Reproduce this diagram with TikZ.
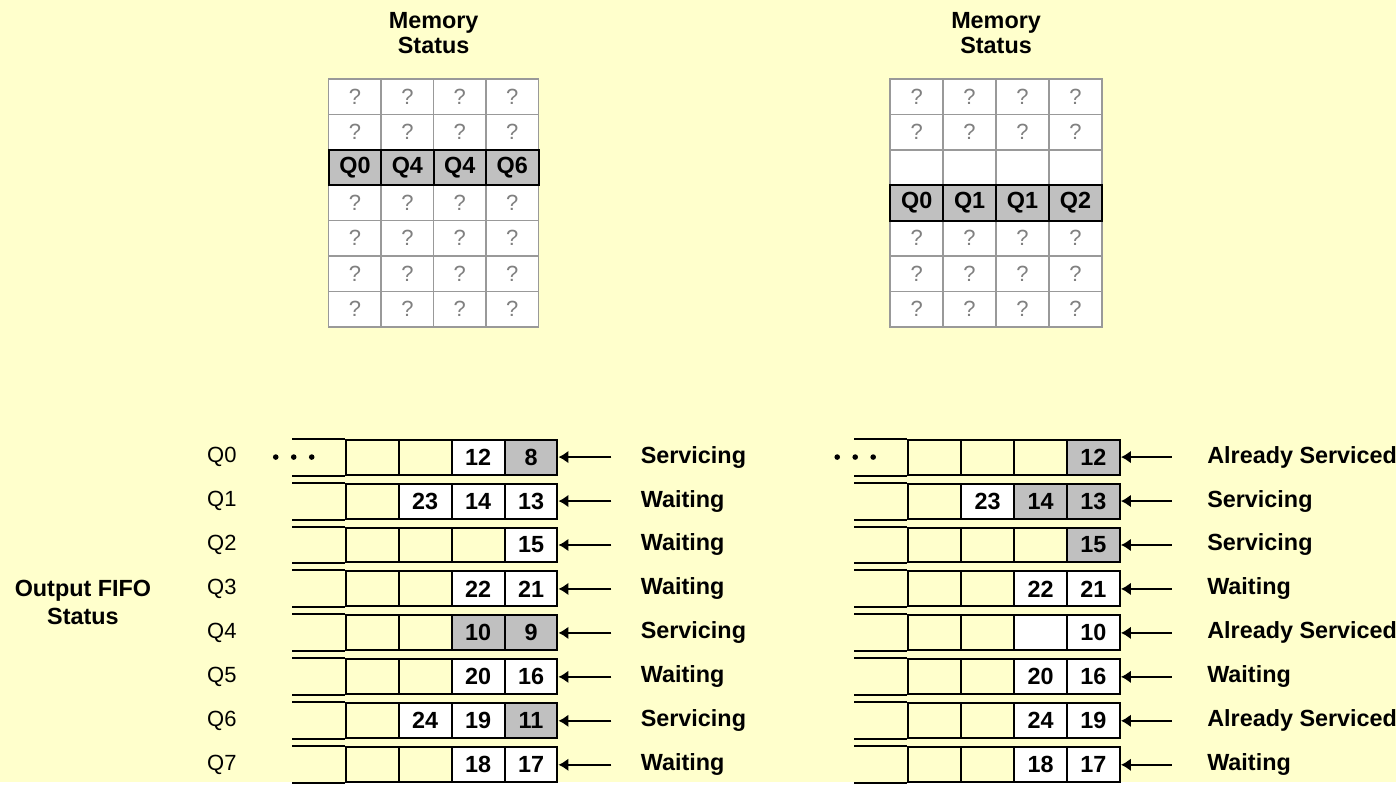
\documentclass[tikz,border=0pt]{standalone}
\usepackage{fontspec}
\setmainfont{Liberation Sans}
\usetikzlibrary{arrows.meta}
\definecolor{paper}{HTML}{FFFFCC}
\definecolor{busy}{HTML}{C0C0C0}
\definecolor{gridgray}{HTML}{999999}
\definecolor{unknown}{HTML}{808080}
\begin{document}
\begin{tikzpicture}[x=0.5pt,y=-0.5pt,
  font=\fontsize{11}{13}\selectfont,
  memcell/.style={draw=gridgray, line width=0.8pt, fill=white, text=unknown, inner sep=0pt, minimum height=17.7pt},
  memrow/.style={draw=black, line width=1pt, fill=busy, text=black, font=\fontsize{11.7}{13}\selectfont\bfseries},
  slot/.style={draw, line width=1pt, inner sep=0pt, minimum width=26.5pt, minimum height=17.5pt},
  full/.style={slot, font=\fontsize{11.7}{13}\selectfont\bfseries},
  title/.style={align=center, font=\fontsize{11.7}{12.5}\selectfont\bfseries},
  state/.style={anchor=west, inner sep=0pt, font=\fontsize{11.7}{13}\selectfont\bfseries},
  feed/.style={line width=1pt, -{Latex[length=5pt,width=6.5pt]}}]
\fill[paper] (0,0) rectangle (1397,783);

% memory before and after
\node[title] (mema) at (434,33) {Memory\\Status};
\node[title] (memb) at (997,33) {Memory\\Status};
\foreach \r in {1,2,4,5,6,7}
  \foreach \c in {1,...,4}
    \node[memcell, minimum width=26.25pt] (ma-\r-\c) at ({302.75+52.5*\c},{61.3+35.43*\r}) {?};
\foreach \c/\q in {1/Q0,2/Q4,3/Q4,4/Q6}
  \node[memcell, memrow, minimum width=26.25pt] (ma-3-\c) at ({302.75+52.5*\c},{61.3+35.43*3}) {\q};
\foreach \r in {1,2,5,6,7}
  \foreach \c in {1,...,4}
    \node[memcell, minimum width=26.5pt] (mb-\r-\c) at ({864.5+53*\c},{61.3+35.43*\r}) {?};
\foreach \c in {1,...,4}
  \node[memcell, minimum width=26.5pt] (mb-3-\c) at ({864.5+53*\c},{61.3+35.43*3}) {};
\foreach \c/\q in {1/Q0,2/Q1,3/Q1,4/Q2}
  \node[memcell, memrow, minimum width=26.5pt] (mb-4-\c) at ({864.5+53*\c},{61.3+35.43*4}) {\q};

% output fifos
\node[title, font=\fontsize{11.7}{14}\selectfont\bfseries] (outa) at (83,603) {Output FIFO\\Status};
\foreach \q in {0,...,7} {
  \node[anchor=west, inner sep=0pt] (qa-\q) at (207,{457.5+44*\q}) {Q\q};
  \foreach \c in {1,...,4} {
    \node[slot] (fa-\q-\c) at ({319.5+53*\c},{457.5+44*\q}) {};
    \node[slot] (fb-\q-\c) at ({882.5+53*\c},{457.5+44*\q}) {};
  }
  \draw[line width=1pt] (fa-\q-1.north west) -- +(-53,0) (fa-\q-1.south west) -- +(-53,0);
  \draw[line width=1pt] (fb-\q-1.north west) -- +(-53,0) (fb-\q-1.south west) -- +(-53,0);
}
\foreach \x in {276,294,312,838,856,874}
  \fill (\x,457.5) circle (1.4pt);

\foreach \q/\c/\v/\f in {0/3/12/white, 0/4/8/busy, 1/2/23/white, 1/3/14/white, 1/4/13/white,
    2/4/15/white, 3/3/22/white, 3/4/21/white, 4/3/10/busy, 4/4/9/busy, 5/3/20/white, 5/4/16/white,
    6/2/24/white, 6/3/19/white, 6/4/11/busy, 7/3/18/white, 7/4/17/white}
  \node[full, fill=\f] (na-\q-\c) at (fa-\q-\c) {\v};
\foreach \q/\c/\v/\f in {0/4/12/busy, 1/2/23/white, 1/3/14/busy, 1/4/13/busy, 2/4/15/busy,
    3/3/22/white, 3/4/21/white, 4/3/{}/white, 4/4/10/white, 5/3/20/white, 5/4/16/white,
    6/3/24/white, 6/4/19/white, 7/3/18/white, 7/4/17/white}
  \node[full, fill=\f] (nb-\q-\c) at (fb-\q-\c) {\v};

\foreach \q/\s/\t in {0/Servicing/Already Serviced, 1/Waiting/Servicing, 2/Waiting/Servicing,
    3/Waiting/Waiting, 4/Servicing/Already Serviced, 5/Waiting/Waiting,
    6/Servicing/Already Serviced, 7/Waiting/Waiting} {
  \coordinate (ta-\q) at (612,{457.5+44*\q});
  \coordinate (tb-\q) at (1173,{457.5+44*\q});
  \draw[feed] (ta-\q) -- (fa-\q-4);
  \draw[feed] (tb-\q) -- (fb-\q-4);
  \node[state] (sa-\q) at (641,{457.5+44*\q}) {\s};
  \node[state] (sb-\q) at (1208,{457.5+44*\q}) {\t};
}
\end{tikzpicture}
\end{document}
